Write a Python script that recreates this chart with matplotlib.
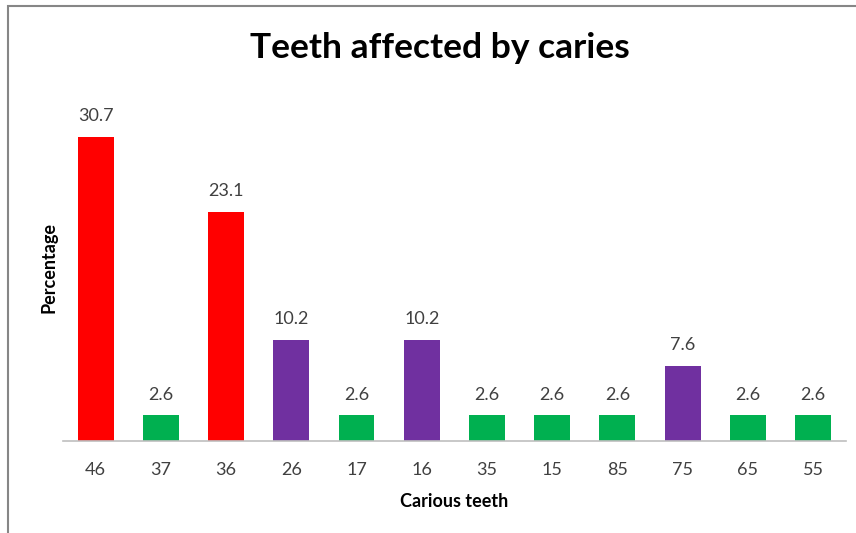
import matplotlib.pyplot as plt
from matplotlib.patches import Rectangle

# data
teeth = ['46', '37', '36', '26', '17', '16', '35', '15', '85', '75', '65', '55']
percent = [30.7, 2.6, 23.1, 10.2, 2.6, 10.2, 2.6, 2.6, 2.6, 7.6, 2.6, 2.6]
bar_colors = ['#FF0000', '#00B050', '#FF0000', '#7030A0', '#00B050', '#7030A0',
              '#00B050', '#00B050', '#00B050', '#7030A0', '#00B050', '#00B050']

plt.rcParams['font.family'] = ['Lato', 'DejaVu Sans']

fig = plt.figure(figsize=(8.56, 5.33), dpi=100)
ax = fig.add_axes([0.0736, 0.1726, 0.9144, 0.651])

x = range(len(teeth))
bars = ax.bar(x, percent, width=0.55, color=bar_colors)

for rect, v in zip(bars, percent):
    ax.annotate(f'{v}', (rect.get_x() + rect.get_width() / 2, v),
                xytext=(0, 9), textcoords='offset points',
                ha='center', va='bottom', fontsize=13, color='#404040')

ax.set_xlim(-0.5, len(teeth) - 0.5)
ax.set_ylim(0, 35)
ax.set_xticks(list(x))
ax.set_xticklabels(teeth, fontsize=13, color='#404040')
ax.tick_params(axis='x', length=0, pad=15)
ax.set_yticks([])

for side in ['top', 'right', 'left']:
    ax.spines[side].set_visible(False)
ax.spines['bottom'].set_color('#BFBFBF')
ax.spines['bottom'].set_linewidth(1.2)

ax.set_xlabel('Carious teeth', fontsize=13, fontweight='bold', labelpad=11)
ax.set_ylabel('Percentage', fontsize=13, fontweight='bold', labelpad=4)

fig.text(0.514, 0.91, 'Teeth affected by caries', ha='center', va='center',
         fontsize=25.5, fontweight='bold', color='black')

# outer chart border
fig.patches.append(Rectangle((8 / 856, -0.1), 1.2, 1 - 6 / 533 + 0.1,
                             transform=fig.transFigure, fill=False,
                             edgecolor='#868686', linewidth=1.5))

fig.savefig('out.png', dpi=100)
